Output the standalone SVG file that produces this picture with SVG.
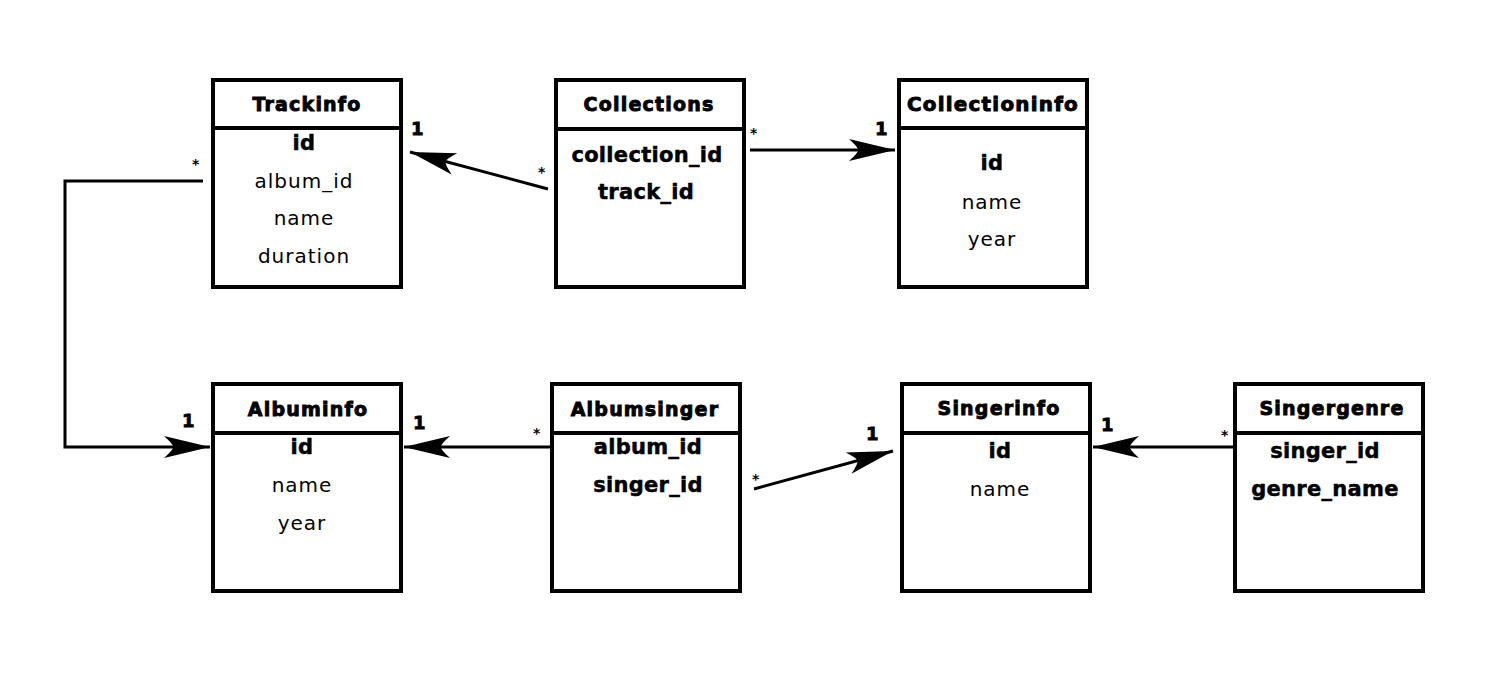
<svg xmlns="http://www.w3.org/2000/svg" width="1485" height="695" viewBox="0 0 1485 695">
<style>
.box{fill:#fff;stroke:#000;stroke-width:4}
.div{stroke:#000;stroke-width:4}
.t{font-family:"DejaVu Sans","Liberation Sans",sans-serif;font-size:19px;font-weight:bold;text-anchor:middle;fill:#000;stroke:#000;stroke-width:0.9px;letter-spacing:1.2px}
.b{font-family:"DejaVu Sans","Liberation Sans",sans-serif;font-size:21px;font-weight:bold;text-anchor:middle;fill:#000;stroke:#000;stroke-width:0.5px;letter-spacing:0.3px}
.r{font-family:"DejaVu Sans","Liberation Sans",sans-serif;font-size:20px;font-weight:normal;text-anchor:middle;fill:#000;letter-spacing:1px}
.c{fill:none;stroke:#000;stroke-width:3}
.m{font-family:"DejaVu Sans","Liberation Sans",sans-serif;font-size:18px;font-weight:bold;fill:#000;stroke:#000;stroke-width:0.8px}
.s{font-family:"DejaVu Sans","Liberation Sans",sans-serif;font-size:14px;font-weight:bold;fill:#000}
</style>
<defs>
<marker id="arr" markerUnits="userSpaceOnUse" markerWidth="50" markerHeight="26" viewBox="-48 -13 50 26" refX="0" refY="0" orient="auto">
<path d="M0,0 L-46,-11 Q-36,-2 -37,0 Q-36,2 -46,11 Z" fill="#000"/>
</marker>
</defs>
<rect width="1485" height="695" fill="#fff"/>

<g id="trackinfo">
<rect class="box" x="213" y="80" width="188" height="207"/>
<line class="div" x1="213" y1="128" x2="401" y2="128"/>
<text class="t" x="307" y="111">Trackinfo</text>
<text class="b" x="304" y="150">id</text>
<text class="r" x="304" y="188">album_id</text>
<text class="r" x="304" y="225">name</text>
<text class="r" x="304" y="263">duration</text>
</g>

<g id="collections">
<rect class="box" x="556" y="80" width="188" height="207"/>
<line class="div" x1="556" y1="129" x2="744" y2="129"/>
<text class="t" x="649" y="111">Collections</text>
<text class="b" x="647" y="162">collection_id</text>
<text class="b" x="646" y="199">track_id</text>
</g>

<g id="collectioninfo">
<rect class="box" x="899" y="80" width="188" height="207"/>
<line class="div" x1="899" y1="128" x2="1087" y2="128"/>
<text class="t" x="993" y="111" textLength="172" lengthAdjust="spacingAndGlyphs">Collectioninfo</text>
<text class="b" x="992" y="170">id</text>
<text class="r" x="992" y="209">name</text>
<text class="r" x="992" y="246">year</text>
</g>

<g id="albuminfo">
<rect class="box" x="213" y="384" width="188" height="207"/>
<line class="div" x1="213" y1="433" x2="401" y2="433"/>
<text class="t" x="308" y="416">Albuminfo</text>
<text class="b" x="302" y="454">id</text>
<text class="r" x="302" y="492">name</text>
<text class="r" x="302" y="530">year</text>
</g>

<g id="albumsinger">
<rect class="box" x="552" y="384" width="188" height="207"/>
<line class="div" x1="552" y1="433" x2="740" y2="433"/>
<text class="t" x="645" y="416">Albumsinger</text>
<text class="b" x="648" y="454">album_id</text>
<text class="b" x="648" y="492">singer_id</text>
</g>

<g id="singerinfo">
<rect class="box" x="902" y="384" width="188" height="207"/>
<line class="div" x1="902" y1="433" x2="1090" y2="433"/>
<text class="t" x="999" y="415">Singerinfo</text>
<text class="b" x="1000" y="458">id</text>
<text class="r" x="1000" y="496">name</text>
</g>

<g id="singergenre">
<rect class="box" x="1235" y="384" width="188" height="207"/>
<line class="div" x1="1235" y1="433" x2="1423" y2="433"/>
<text class="t" x="1332" y="415">Singergenre</text>
<text class="b" x="1325" y="458">singer_id</text>
<text class="b" x="1325" y="496">genre_name</text>
</g>

<g id="connectors">
<line class="c" x1="548" y1="189" x2="410" y2="152" marker-end="url(#arr)"/>
<text class="m" x="411" y="135">1</text>
<text class="s" x="538" y="177">*</text>

<line class="c" x1="750" y1="150" x2="895" y2="150" marker-end="url(#arr)"/>
<text class="s" x="750" y="138">*</text>
<text class="m" x="875" y="135">1</text>

<polyline class="c" points="203,181 65,181 65,447 210,447" marker-end="url(#arr)"/>
<text class="s" x="192" y="169">*</text>
<text class="m" x="182" y="427">1</text>

<line class="c" x1="550" y1="447" x2="404" y2="447" marker-end="url(#arr)"/>
<text class="m" x="413" y="429">1</text>
<text class="s" x="533" y="438">*</text>

<line class="c" x1="754" y1="489" x2="893" y2="451" marker-end="url(#arr)"/>
<text class="s" x="752" y="484">*</text>
<text class="m" x="866" y="440">1</text>

<line class="c" x1="1233" y1="447" x2="1093" y2="447" marker-end="url(#arr)"/>
<text class="m" x="1101" y="431">1</text>
<text class="s" x="1221" y="440">*</text>
</g>
</svg>
